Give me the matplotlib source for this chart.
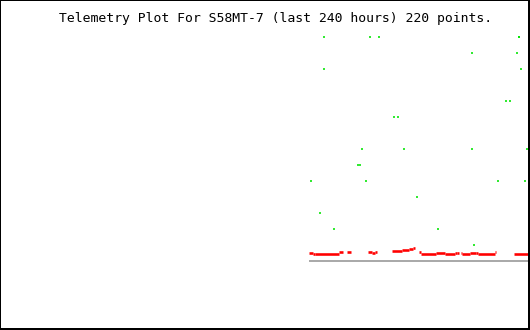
import numpy as np
import matplotlib
matplotlib.use('Agg')
import matplotlib.pyplot as plt

title = "Telemetry Plot For S58MT-7 (last 240 hours) 220 points."

# green channel: hours ago, level
green_hours = [-93.3, -72.9, -68.8, -5.4, -5.0,
               -26.7, -5.9,
               -93.7, -4.5,
               -10.9, -9.5,
               -62.0, -60.2, -0.9,
               -76.5, -57.5, -26.3, -1.8,
               -77.9, -77.4,
               -99.6, -74.3, -14.5, -2.3,
               -51.6,
               -95.5,
               -89.2, -42.1,
               -25.8]
green_level = [14, 14, 14, 14, 14,
               13, 13,
               12, 12,
               10, 10,
               9, 9, 9,
               7, 7, 7, 7,
               6, 6,
               5, 5, 5, 5,
               4,
               3,
               2, 2,
               1]

# red channel as runs of equal value: start hour, end hour, value
red_start = [-100.1, -98.7, -97.8, -97.4, -86.5, -83.3, -80.6, -73.8, -72.0, -70.2,
             -62.5, -58.4, -54.8, -53.0, -50.7, -49.4, -43.0, -38.9, -38.5, -34.0,
             -33.1, -31.7, -31.2, -27.6, -24.9, -24.5, -24.0, -16.3, -7.7]
red_end = [-98.7, -97.8, -97.4, -86.5, -84.7, -81.1, -80.2, -72.0, -70.2, -69.7,
           -58.4, -54.8, -53.0, -52.5, -49.4, -43.0, -38.9, -38.5, -34.0, -33.5,
           -32.6, -31.2, -27.6, -24.9, -24.5, -24.0, -16.3, -15.8, 0.0]
red_value = [0.5, 0.44, 0.5, 0.44, 0.56, 0.56, 0.56, 0.56, 0.5, 0.56,
             0.62, 0.69, 0.75, 0.81, 0.56, 0.44, 0.5, 0.56, 0.44, 0.5,
             0.5, 0.5, 0.44, 0.5, 0.44, 0.5, 0.44, 0.56, 0.44]

base_start = -100.1
base_end = 0.0

px = 1 / 100 * 72  # one pixel in points

fig = plt.figure(figsize=(5.3, 3.3), dpi=100)
ax = fig.add_axes([0, 0, 1, 1])
ax.set_xlim(-240.23, -0.23)
ax.set_ylim(-4.3125, 16.3125)

ax.hlines(0, base_start, base_end, color='#aaaaaa', linewidth=2 * px)
ax.hlines(red_value, red_start, red_end, color='#ff0000', linewidth=2.6 * px)
ax.plot(green_hours, green_level, linestyle='none', marker='|',
        markersize=2.2 * px, markeredgewidth=1.6 * px, color='#00e600')

ax.set_xticks([])
ax.set_yticks([])
for side, w in [('left', 2), ('top', 2), ('right', 5), ('bottom', 4)]:
    ax.spines[side].set_linewidth(w * px)
    ax.spines[side].set_color('black')

fig.text(59 / 530, 1 - 22 / 330, title, family='DejaVu Sans Mono',
         fontsize=9.45, ha='left', va='baseline', color='black')

fig.savefig('out.png', dpi=100)
